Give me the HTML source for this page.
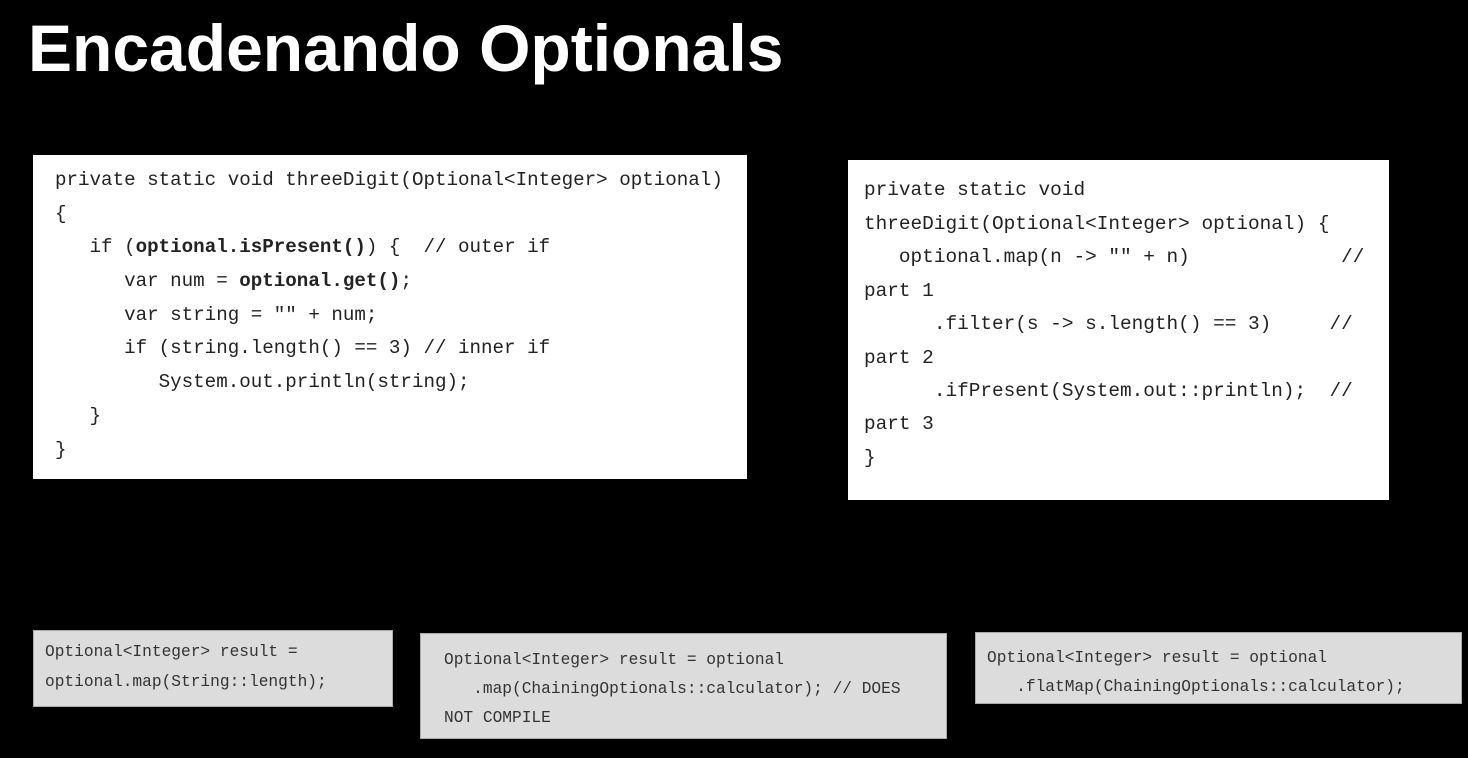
<!DOCTYPE html>
<html><head><style>
body{margin:0;width:1468px;height:758px;background:#000;overflow:hidden;position:relative;font-family:"Liberation Mono",monospace}
.t{position:absolute;left:28px;top:10px;color:#fff;font:bold 66px "Liberation Sans",sans-serif;letter-spacing:0px}
.box{position:absolute;background:#fff;color:#222}
.l{position:absolute;white-space:pre}
.g{background:#dcdcdc;border:1px solid #aaa;color:#333}
b{font-weight:bold}
</style></head><body>
<div class="t">Encadenando Optionals</div>
<div class="box" style="left:33px;top:155px;width:714px;height:324px;font-size:19.2px">
<div class="l" style="left:22px;top:14px">private static void threeDigit(Optional&lt;Integer&gt; optional)</div>
<div class="l" style="left:22px;top:48px">{</div>
<div class="l" style="left:22px;top:81px">   if (<b>optional.isPresent()</b>) {  // outer if</div>
<div class="l" style="left:22px;top:115px">      var num = <b>optional.get()</b>;</div>
<div class="l" style="left:22px;top:149px">      var string = "" + num;</div>
<div class="l" style="left:22px;top:182px">      if (string.length() == 3) // inner if</div>
<div class="l" style="left:22px;top:216px">         System.out.println(string);</div>
<div class="l" style="left:22px;top:250px">   }</div>
<div class="l" style="left:22px;top:284px">}</div>
</div>
<div class="box" style="left:848px;top:160px;width:541px;height:340px;font-size:19.4px">
<div class="l" style="left:16px;top:19px">private static void</div>
<div class="l" style="left:16px;top:53px">threeDigit(Optional&lt;Integer&gt; optional) {</div>
<div class="l" style="left:16px;top:86px">   optional.map(n -&gt; "" + n)             //</div>
<div class="l" style="left:16px;top:120px">part 1</div>
<div class="l" style="left:16px;top:153px">      .filter(s -&gt; s.length() == 3)     //</div>
<div class="l" style="left:16px;top:187px">part 2</div>
<div class="l" style="left:16px;top:220px">      .ifPresent(System.out::println);  //</div>
<div class="l" style="left:16px;top:253px">part 3</div>
<div class="l" style="left:16px;top:287px">}</div>
</div>
<div class="box g" style="left:33px;top:630px;width:358px;height:75px;font-size:16.2px">
<div class="l" style="left:11px;top:12px">Optional&lt;Integer&gt; result =</div>
<div class="l" style="left:11px;top:42px">optional.map(String::length);</div>
</div>
<div class="box g" style="left:420px;top:633px;width:525px;height:104px;font-size:16.2px">
<div class="l" style="left:23px;top:17px">Optional&lt;Integer&gt; result = optional</div>
<div class="l" style="left:23px;top:46px">   .map(ChainingOptionals::calculator); // DOES</div>
<div class="l" style="left:23px;top:75px">NOT COMPILE</div>
</div>
<div class="box g" style="left:975px;top:632px;width:485px;height:70px;font-size:16.2px">
<div class="l" style="left:11px;top:16px">Optional&lt;Integer&gt; result = optional</div>
<div class="l" style="left:11px;top:45px">   .flatMap(ChainingOptionals::calculator);</div>
</div>
</body></html>
